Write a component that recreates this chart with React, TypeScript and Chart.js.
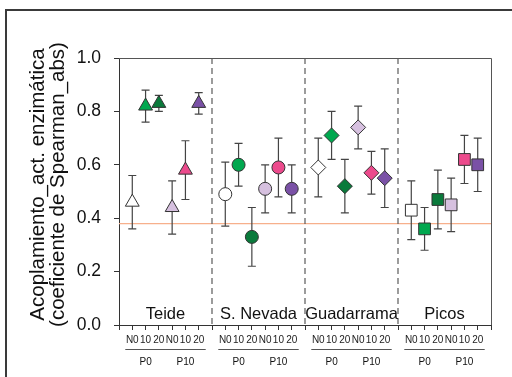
import React, { useEffect, useRef } from "react";
import { Chart, registerables } from "chart.js";

Chart.register(...registerables);

const FONT = "'Liberation Sans', Arial, Helvetica, sans-serif";

const sites = ["Teide", "S. Nevada", "Guadarrama", "Picos"];
const siteStyles = ["triangle", "circle", "rectRot", "rect"];
const siteRadii = [8, 6.5, 7.5, 8.3];
const nLabels = ["N0", "10", "20", "N0", "10", "20"];
const pLabels = ["P0", "P10"];
const treatmentColors = ["#ffffff", "#00a84f", "#0a7a3b", "#d6c0df", "#ec4a8c", "#7a51a6"];

const teideMean = [0.46, 0.82, 0.83, 0.44, 0.58, 0.83];
const teideErr = [0.10, 0.06, 0.03, 0.10, 0.11, 0.04];
const nevadaMean = [0.49, 0.60, 0.33, 0.51, 0.59, 0.51];
const nevadaErr = [0.12, 0.08, 0.11, 0.09, 0.11, 0.09];
const guadarramaMean = [0.59, 0.71, 0.52, 0.74, 0.57, 0.55];
const guadarramaErr = [0.11, 0.09, 0.10, 0.08, 0.08, 0.11];
const picosMean = [0.43, 0.36, 0.47, 0.45, 0.62, 0.60];
const picosErr = [0.11, 0.08, 0.11, 0.10, 0.09, 0.10];

const siteMeans = [teideMean, nevadaMean, guadarramaMean, picosMean];
const siteErrs = [teideErr, nevadaErr, guadarramaErr, picosErr];

const yTicks = [0, 0.2, 0.4, 0.6, 0.8, 1.0];
const refLine = 0.38;
const yTitle = ["Acoplamiento_act. enzimática", "(coeficiente de Spearman_abs)"];

const SLOTS = 7; // positions per site (6 treatments + gap)

export default function App() {
  const ref = useRef<HTMLCanvasElement | null>(null);

  useEffect(() => {
    const canvas = ref.current;
    if (!canvas) return;

    const datasets = sites.map((s, si) => ({
      label: s,
      data: siteMeans[si].map((v, k) => ({ x: si * SLOTS + k + 1, y: v })),
      pointStyle: siteStyles[si] as any,
      pointRadius: siteRadii[si],
      pointBackgroundColor: treatmentColors,
      pointBorderColor: "#333333",
      pointBorderWidth: 1,
      showLine: false,
    }));

    const backPlugin = {
      id: "back",
      beforeDraw(chart: any) {
        const ctx = chart.ctx;
        ctx.save();
        ctx.strokeStyle = "#3a3a3a";
        ctx.lineWidth = 2;
        ctx.beginPath();
        ctx.moveTo(6, 377);
        ctx.lineTo(6, 10);
        ctx.lineTo(512, 10);
        ctx.stroke();
        ctx.restore();
      },
      beforeDatasetsDraw(chart: any) {
        const ctx = chart.ctx;
        const xs = chart.scales.x;
        const ys = chart.scales.y;
        const a = chart.chartArea;
        ctx.save();
        ctx.strokeStyle = "#555555";
        ctx.lineWidth = 1;
        ctx.beginPath();
        ctx.moveTo(a.left, a.top + 0.5);
        ctx.lineTo(a.right + 0.5, a.top + 0.5);
        ctx.lineTo(a.right + 0.5, a.bottom);
        ctx.stroke();
        const yr = ys.getPixelForValue(refLine);
        ctx.strokeStyle = "#f7b08c";
        ctx.lineWidth = 1.2;
        ctx.beginPath();
        ctx.moveTo(a.left, yr);
        ctx.lineTo(a.right, yr);
        ctx.stroke();
        ctx.strokeStyle = "#5a5a5a";
        ctx.lineWidth = 1.2;
        ctx.setLineDash([6, 4]);
        for (let i = 1; i < sites.length; i++) {
          const x = xs.getPixelForValue(i * SLOTS);
          ctx.beginPath();
          ctx.moveTo(x, a.top);
          ctx.lineTo(x, a.bottom);
          ctx.stroke();
        }
        ctx.setLineDash([]);
        ctx.strokeStyle = "#444444";
        ctx.lineWidth = 1.2;
        chart.data.datasets.forEach((ds: any, si: number) => {
          const meta = chart.getDatasetMeta(si);
          meta.data.forEach((pt: any, k: number) => {
            const m = siteMeans[si][k];
            const e = siteErrs[si][k];
            const x = pt.x;
            const yt = ys.getPixelForValue(m + e);
            const yb = ys.getPixelForValue(m - e);
            ctx.beginPath();
            ctx.moveTo(x, yt);
            ctx.lineTo(x, yb);
            ctx.moveTo(x - 4, yt);
            ctx.lineTo(x + 4, yt);
            ctx.moveTo(x - 4, yb);
            ctx.lineTo(x + 4, yb);
            ctx.stroke();
          });
        });
        ctx.restore();
      },
      afterDraw(chart: any) {
        const ctx = chart.ctx;
        const xs = chart.scales.x;
        const a = chart.chartArea;
        ctx.save();
        ctx.fillStyle = "#111111";
        ctx.font = `16.5px ${FONT}`;
        ctx.textAlign = "center";
        ctx.textBaseline = "middle";
        sites.forEach((s, si) => {
          const x = xs.getPixelForValue(si * SLOTS + SLOTS / 2);
          ctx.fillText(s, x, a.bottom - 11);
        });
        ctx.font = `10px ${FONT}`;
        ctx.strokeStyle = "#555555";
        ctx.lineWidth = 1;
        sites.forEach((s, si) => {
          pLabels.forEach((p, gi) => {
            const x1 = xs.getPixelForValue(si * SLOTS + gi * 3 + 1) - 7;
            const x2 = xs.getPixelForValue(si * SLOTS + gi * 3 + 3) + 7;
            ctx.beginPath();
            ctx.moveTo(x1, 349.5);
            ctx.lineTo(x2, 349.5);
            ctx.stroke();
            ctx.fillText(p, xs.getPixelForValue(si * SLOTS + gi * 3 + 2), 362);
          });
        });
        ctx.font = `20.5px ${FONT}`;
        const cy = (a.top + a.bottom) / 2 - 7;
        yTitle.forEach((t, i) => {
          ctx.save();
          ctx.translate(38.5 + i * 20, cy);
          ctx.rotate(-Math.PI / 2);
          ctx.fillText(t, 0, 0);
          ctx.restore();
        });
        ctx.restore();
      },
    };

    const chart = new Chart(canvas, {
      type: "scatter",
      data: { datasets },
      options: {
        animation: false,
        responsive: false,
        devicePixelRatio: 1,
        layout: { padding: { left: 0, top: 58, right: 21, bottom: 0 } },
        plugins: { legend: { display: false }, tooltip: { enabled: false } },
        scales: {
          x: {
            type: "linear",
            min: 0,
            max: sites.length * SLOTS,
            afterFit: (s: any) => { s.height = 52; },
            afterBuildTicks: (s: any) => {
              const t = [];
              for (let v = 0; v <= sites.length * SLOTS; v++) t.push({ value: v });
              s.ticks = t;
            },
            ticks: {
              autoSkip: false,
              maxRotation: 0,
              minRotation: 0,
              padding: 4,
              color: "#222222",
              font: { family: FONT, size: 10 },
              callback: (v: any) => {
                const r = Math.round(Number(v)) % SLOTS;
                return r >= 1 && r <= 6 ? nLabels[r - 1] : "";
              },
            },
            grid: { drawOnChartArea: false, drawTicks: true, tickLength: 5, color: "#333333" },
            border: { display: true, color: "#333333", width: 1 },
          },
          y: {
            min: 0,
            max: 1,
            afterFit: (s: any) => { s.width = 119; },
            afterBuildTicks: (s: any) => { s.ticks = yTicks.map((v) => ({ value: v })); },
            ticks: {
              padding: 13,
              color: "#111111",
              font: { family: FONT, size: 17.5 },
              callback: (v: any) => Number(v).toFixed(1),
            },
            grid: { drawOnChartArea: false, drawTicks: true, tickLength: 5, color: "#333333" },
            border: { display: true, color: "#333333", width: 1 },
          },
        },
      },
      plugins: [backPlugin],
    });

    return () => chart.destroy();
  }, []);

  return (
    <div style={{ position: "absolute", left: 0, top: 0, width: 512, height: 377, background: "#ffffff" }}>
      <canvas ref={ref} width={512} height={377} style={{ display: "block", width: 512, height: 377 }} />
    </div>
  );
}
